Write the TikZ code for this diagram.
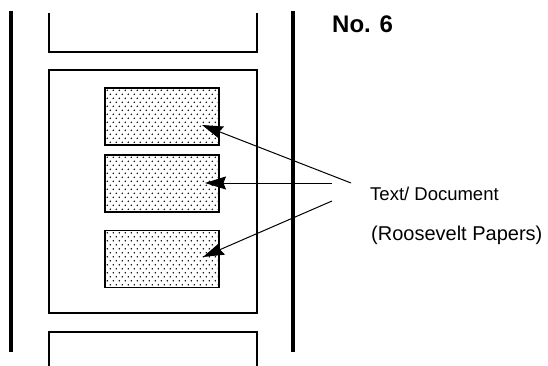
\documentclass[tikz,border=0pt]{standalone}
\usepackage{fontspec}
\setmainfont{Liberation Sans}
\usetikzlibrary{arrows.meta}
\newcommand\stipple[1]{%
  \begin{scope}
    \clip ([shift={(1.4pt,-1.4pt)}]#1.north west) rectangle ([shift={(-1.4pt,1.4pt)}]#1.south east);
    \begin{scope}[shift={(#1.north west)}]
      \foreach \r in {0,...,14}{\foreach \c in {0,...,19}{%
        \fill ({3+\c*6+3*mod(\r,2)},{3+\r*4}) circle (0.85);}}
    \end{scope}
  \end{scope}}
\begin{document}
\begin{tikzpicture}[x=1pt,y=-1pt,
  rail/.style={line width=3.2pt},
  frame/.style={line width=1.3pt},
  doc/.style={draw, line width=1.4pt, rectangle, inner sep=0pt, minimum width=114pt, minimum height=57pt},
  pointer/.style={line width=1pt, -{Stealth[length=21pt,width=13pt,inset=2.5pt]}},
  lbl/.style={anchor=base west, inner sep=0pt, font=\fontsize{18.5}{20}\selectfont}]
\useasboundingbox (0,0) rectangle (548,366);
% rails
\draw[rail] (11,11) -- (11,352);
\draw[rail] (293,11) -- (293,352);
% frames
\draw[frame] (49,13) -- (49,52) -- (257,52) -- (257,13);
\node[frame, draw, rectangle, inner sep=0pt, minimum width=208pt, minimum height=243pt] (page) at (153,191.5) {};
\draw[frame] (49,368) -- (49,332) -- (257,332) -- (257,368);
% documents
\node[doc] (d1) at (162,116.5) {};
\node[doc] (d2) at (162,183.5) {};
\node[doc] (d3) at (162,259) {};
\stipple{d1}\stipple{d2}\stipple{d3}
% labels
\node[anchor=base west, inner sep=0pt, font=\bfseries\fontsize{24}{26}\selectfont] (no) at (332,33) {No. 6};
\node[lbl] (txt1) at (370,200) {Text/ Document};
\node[lbl, font=\fontsize{20}{22}\selectfont] (txt2) at (371,240) {(Roosevelt Papers)};
% pointers
\coordinate (s1) at (351,183);
\coordinate (s2) at (332,183);
\coordinate (s3) at (332,201);
\coordinate (t1) at (202,125);
\coordinate (t2) at (205,183);
\coordinate (t3) at (203,257);
\draw[pointer] (s1) -- (t1);
\draw[pointer] (s2) -- (t2);
\draw[pointer] (s3) -- (t3);
\end{tikzpicture}
\end{document}
